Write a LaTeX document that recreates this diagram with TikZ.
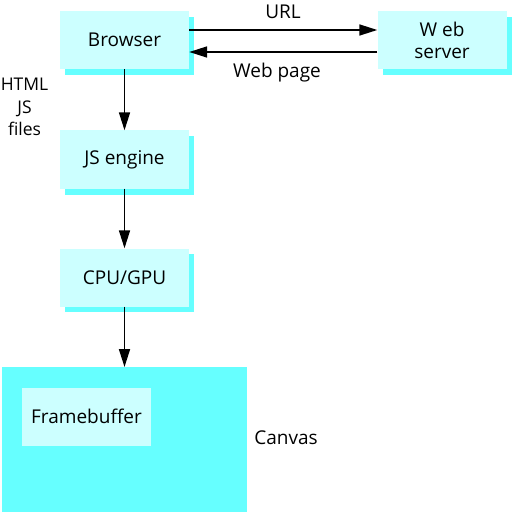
\documentclass[tikz,border=0pt]{standalone}
\usepackage{fontspec}
\setmainfont{Open Sans}
\usetikzlibrary{arrows.meta}
\definecolor{frontc}{HTML}{CCFFFF}
\definecolor{shadc}{HTML}{66FFFF}
\begin{document}
\begin{tikzpicture}[x=1bp,y=-1bp,
  box/.style={fill=frontc,minimum width=129bp,minimum height=58bp,inner sep=0pt,align=center,font=\fontsize{19bp}{22bp}\selectfont},
  shad/.style={fill=shadc},
  lbl/.style={font=\fontsize{19bp}{22bp}\selectfont,align=center,inner sep=0pt},
  arr/.style={line width=1.7bp,-{Triangle[length=18bp,width=11bp]}}]
\useasboundingbox (0,0) rectangle (512,512);
% shadows
\fill[shad] (65,17) rectangle (194,75);
\fill[shad] (383,17) rectangle (512,75);
\fill[shad] (65,136) rectangle (194,195);
\fill[shad] (65,254) rectangle (194,312);
% canvas
\fill[shad] (2,367) rectangle (247,512);
\node[box] (browser) at (124.5,40) {Browser};
\node[box] (web) at (442,40) {W eb\\server};
\node[box] (js) at (124.5,159.5) {JS engine};
\node[box] (cpu) at (124.5,277.5) {CPU/GPU};
\coordinate (canvastop) at (124.5,367);
\node[box] (fb) at (86.5,416.5) {Framebuffer};
\node[lbl] (canvaslbl) at (286,438) {Canvas};
\node[lbl] (url) at (283,12) {URL};
\node[lbl] (wp) at (277,73) {Web page};
\node[lbl,font=\fontsize{17.5bp}{22.5bp}\selectfont] (html) at (24.5,107) {HTML\\JS\\files};
\draw[arr] (browser.east |- 0,30) -- (web.west |- 0,30);
\draw[arr] (web.west |- 0,52) -- (browser.east |- 0,52);
\draw[arr] (browser.south) -- (js.north);
\draw[arr] (js.south) -- (cpu.north);
\draw[arr] (cpu.south) -- (canvastop);
\end{tikzpicture}
\end{document}
